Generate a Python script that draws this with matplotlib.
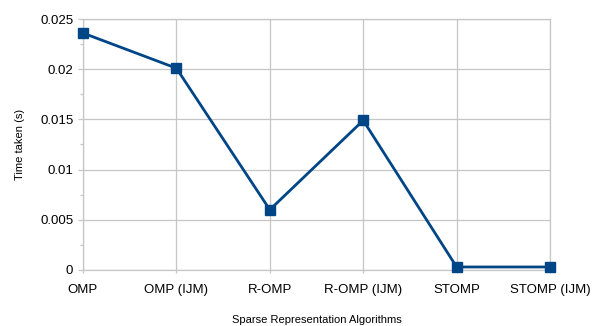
import matplotlib.pyplot as plt
from matplotlib.ticker import MultipleLocator, FuncFormatter

plt.rcParams['font.family'] = ['Liberation Sans', 'DejaVu Sans']

algorithms = ["OMP", "OMP (IJM)", "R-OMP", "R-OMP (IJM)", "STOMP", "STOMP (IJM)"]
time_taken = [0.0236, 0.0201, 0.0060, 0.0149, 0.0003, 0.0003]

grid_col = "#c6c6c6"
line_col = "#004586"

fig = plt.figure(figsize=(5.94, 3.26), dpi=100)
ax = fig.add_axes([0.1397, 0.1718, 0.926 - 0.1397, 0.9417 - 0.1718])

x = list(range(len(algorithms)))
ax.plot(x, time_taken, color=line_col, lw=2.0, marker="s", markersize=7.5,
        markerfacecolor=line_col, markeredgecolor=line_col, clip_on=False, zorder=5)

ax.set_xlim(0, len(algorithms) - 1)
ax.set_ylim(0, 0.025)
ax.set_xticks(x)
ax.set_xticklabels(algorithms, fontsize=9.5)
ax.yaxis.set_major_locator(MultipleLocator(0.005))
ax.yaxis.set_minor_locator(MultipleLocator(0.0025))
ax.yaxis.set_major_formatter(FuncFormatter(lambda v, p: f"{round(v, 4):g}"))
ax.tick_params(axis="y", labelsize=9.5)

ax.grid(True, which="major", color=grid_col, lw=0.9)
ax.set_axisbelow(True)
for s in ax.spines.values():
    s.set_color(grid_col)
    s.set_linewidth(0.9)

ax.tick_params(axis="y", which="major", length=3.5, width=0.9, color=grid_col, pad=3.5)
ax.tick_params(axis="y", which="minor", length=2, width=0.9, color=grid_col)
ax.tick_params(axis="x", which="major", length=2, width=0.9, color=grid_col, pad=8)

ax.set_xlabel("Sparse Representation Algorithms", fontsize=8, labelpad=14)
ax.set_ylabel("Time taken (s)", fontsize=8, labelpad=11)

fig.savefig("out.png", dpi=100)
